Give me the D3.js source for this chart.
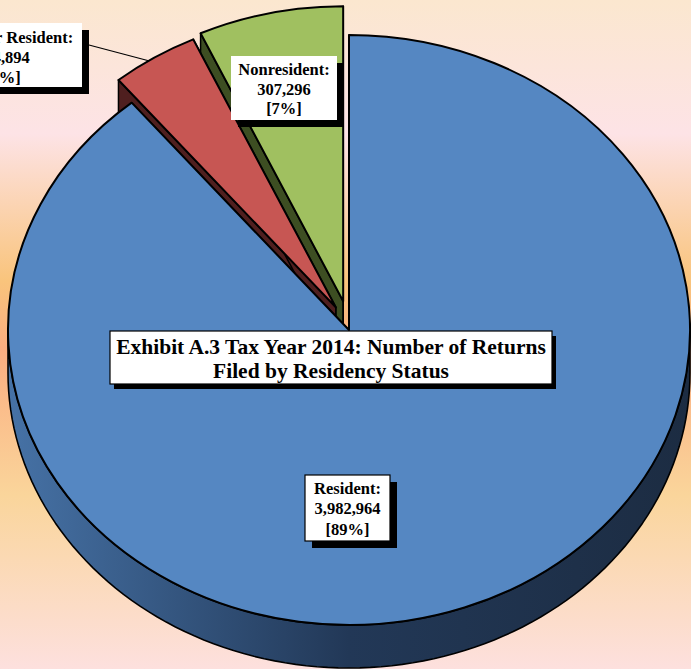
<!DOCTYPE html>
<html lang="en">
<head>
<meta charset="utf-8">
<title>Exhibit A.3</title>
<script src="https://d3js.org/d3.v7.min.js"></script>
<style>
  html, body { margin: 0; padding: 0; overflow: hidden; }
  svg { display: block; }
  text { font-family: "Liberation Serif", "Times New Roman", serif; font-weight: bold; fill: #000; }
</style>
</head>
<body>
<script>
// Data
var categories = ["Resident", "Part-Year Resident", "Nonresident"];
var values = [3982964, 184894, 307296];
var percents = ["89%", "4%", "7%"];
var title = ["Exhibit A.3 Tax Year 2014: Number of Returns", "Filed by Residency Status"];

// Styles
var topColors = ["#5587c2", "#c75653", "#a0c060"];
var wallColors = ["url(#blueWall)", "#4f1f1f", "#3d4e22"];
var explode = [0, 31, 34];

var w = 691, h = 669;
var cx = 349, cy = 330, rx = 341, ry = 295, depth = 43;
var k = ry / rx;

var svg = d3.select("body").append("svg")
  .attr("width", w)
  .attr("height", h);

var defs = svg.append("defs");

// background gradient
var bg = defs.append("linearGradient")
  .attr("id", "bg")
  .attr("x1", 0).attr("y1", 0).attr("x2", 0).attr("y2", 1);
[[0, "#fbe7cf"], [0.2, "#fde3e6"], [0.42, "#f9c47c"], [0.52, "#fbad80"],
 [0.74, "#fad59b"], [1, "#fde0de"]].forEach(function(s) {
  bg.append("stop").attr("offset", s[0]).attr("stop-color", s[1]);
});

var wallGrad = defs.append("linearGradient")
  .attr("id", "blueWall")
  .attr("gradientUnits", "userSpaceOnUse")
  .attr("x1", cx - rx).attr("y1", 0).attr("x2", cx + rx).attr("y2", 0);
[[0, "#4672a6"], [0.5, "#223857"], [1, "#1c2c42"]].forEach(function(s) {
  wallGrad.append("stop").attr("offset", s[0]).attr("stop-color", s[1]);
});

svg.append("rect")
  .attr("width", w)
  .attr("height", h)
  .attr("fill", "url(#bg)");

var pie = d3.pie().sort(null).startAngle(0).endAngle(2 * Math.PI);
var arcs = pie(values);

var arc = d3.arc().innerRadius(0).outerRadius(rx);

function offset(d, i) {
  var mid = (d.startAngle + d.endAngle) / 2;
  return [explode[i] * Math.sin(mid) * 0.8, -explode[i] * k * Math.cos(mid)];
}

function pt(d, i, a, r, dy) {
  var o = offset(d, i);
  return [cx + o[0] + r * Math.sin(a), cy + o[1] - r * k * Math.cos(a) + (dy || 0)];
}

var line = d3.line();

// draw back slices first, then the big front slice
var order = [2, 1, 0];

order.forEach(function(i) {
  var d = arcs[i];
  var g = svg.append("g");

  // radial walls
  [d.startAngle, d.endAngle].forEach(function(a) {
    var p0 = pt(d, i, a, 0), p1 = pt(d, i, a, rx);
    g.append("path")
      .attr("d", line([p0, p1, [p1[0], p1[1] + depth], [p0[0], p0[1] + depth]]) + "Z")
      .attr("fill", wallColors[i])
      .attr("stroke", "#000")
      .attr("stroke-width", 1.5)
      .attr("stroke-linejoin", "round");
  });

  // outer wall (front part)
  var a0 = Math.max(d.startAngle, Math.PI / 2);
  var a1 = Math.min(d.endAngle, 3 * Math.PI / 2);
  if (a1 > a0) {
    var steps = d3.range(0, 101).map(function(t) { return a0 + (a1 - a0) * t / 100; });
    var topPts = steps.map(function(a) { return pt(d, i, a, rx); });
    var botPts = steps.slice().reverse().map(function(a) { return pt(d, i, a, rx, depth); });
    g.append("path")
      .attr("d", line(topPts.concat(botPts)) + "Z")
      .attr("fill", wallColors[i])
      .attr("stroke", "#000")
      .attr("stroke-width", 1.6)
      .attr("stroke-linejoin", "round");
  }

  // top face
  var o = offset(d, i);
  g.append("g")
    .attr("transform", "translate(" + (cx + o[0]) + "," + (cy + o[1]) + ") scale(1," + k + ")")
    .append("path")
    .attr("d", arc(d))
    .attr("fill", topColors[i])
    .attr("stroke", "#000")
    .attr("stroke-width", 2)
    .attr("stroke-linejoin", "round")
    .attr("vector-effect", "non-scaling-stroke");
});

// leader line for Part-Year Resident
var dPY = arcs[1];
var midPY = (dPY.startAngle + dPY.endAngle) / 2;
var lp = pt(dPY, 1, midPY - 0.02, rx);
svg.append("line")
  .attr("x1", 89).attr("y1", 45)
  .attr("x2", lp[0]).attr("y2", lp[1])
  .attr("stroke", "#000")
  .attr("stroke-width", 1.2);

// label boxes
function labelBox(x, y, bw, bh, lines, baselines, size, shadow, border) {
  var g = svg.append("g");
  g.append("rect")
    .attr("x", x + shadow[0]).attr("y", y + shadow[1])
    .attr("width", bw).attr("height", bh)
    .attr("fill", "#000");
  g.append("rect")
    .attr("x", x).attr("y", y)
    .attr("width", bw).attr("height", bh)
    .attr("fill", "#fff")
    .attr("stroke", border ? "#000" : "none")
    .attr("stroke-width", 1.2);
  lines.forEach(function(t, j) {
    g.append("text")
      .attr("x", x + bw / 2)
      .attr("y", baselines[j])
      .attr("text-anchor", "middle")
      .style("font-size", size + "px")
      .text(t);
  });
}

function fmt(v) { return d3.format(",")(v); }

labelBox(-76, 23, 158, 64,
  [categories[1] + ":", fmt(values[1]), "[" + percents[1] + "]"],
  [43, 63, 83], 16.5, [7, 7], false);

labelBox(231, 56, 106, 64,
  [categories[2] + ":", fmt(values[2]), "[" + percents[2] + "]"],
  [75, 95, 114], 16.5, [7, 7], false);

labelBox(305, 475, 85, 66,
  [categories[0] + ":", fmt(values[0]), "[" + percents[0] + "]"],
  [494, 514, 535], 16.5, [7, 7], true);

labelBox(110, 331, 442, 53, title, [354, 378], 21.5, [4, 5], true);
</script>
</body>
</html>
